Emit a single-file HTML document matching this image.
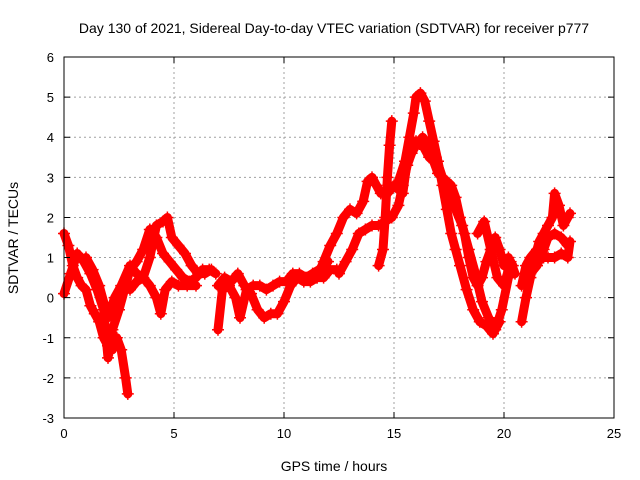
<!DOCTYPE html>
<html><head><meta charset="utf-8"><style>
body{margin:0;background:#fff}
svg{display:block;font-family:"Liberation Sans",sans-serif}
</style></head><body>
<svg id="chart" width="640" height="480">
<rect width="640" height="480" fill="#fff"/>
<text x="334" y="33" font-size="14" text-anchor="middle">Day 130 of 2021, Sidereal Day-to-day VTEC variation (SDTVAR) for receiver p777</text>
<text x="334" y="471" font-size="14" text-anchor="middle">GPS time / hours</text>
<text x="18" y="238" font-size="14" text-anchor="middle" transform="rotate(-90 18 238)">SDTVAR / TECUs</text>
<g id="grid"></g><g id="marks"></g><g id="axes"></g>
</svg>
<script>
const xTicks=[0,5,10,15,20,25];
const yTicks=[-3,-2,-1,0,1,2,3,4,5,6];
const track1=[[0,1.6],[0.2,1.3],[0.4,0.8],[0.6,0.5],[0.8,0.3],[1.0,0.2],[1.2,-0.2],[1.4,-0.4],[1.6,-0.6],[1.8,-1.0],[2.0,-1.2],[2.2,-1.3],[2.4,-1.0],[2.6,-1.3],[2.8,-2.0],[2.9,-2.4]];
const track2=[[0,0.1],[0.3,0.6],[0.6,1.1],[0.9,0.9],[1.2,0.6],[1.5,0.2],[1.8,-0.3],[2.0,-1.5],[2.2,-0.8],[2.5,-0.3],[2.8,0.3],[3.0,0.7],[3.3,0.9],[3.6,1.2],[3.9,1.7],[4.2,1.5],[4.5,1.1],[4.8,0.9],[5.1,0.7],[5.4,0.5],[5.7,0.4],[6.0,0.5],[6.3,0.7],[6.6,0.7],[6.9,0.6]];
const track3=[[1.0,1.0],[1.3,0.7],[1.6,0.3],[2.0,-0.5],[2.3,0.0],[2.6,0.3],[3.0,0.8],[3.3,0.6],[3.6,0.5],[3.9,1.0],[4.2,1.8],[4.5,1.9],[4.7,2.0],[4.9,1.5],[5.2,1.3],[5.5,1.1],[5.8,0.8],[6.1,0.6],[6.4,0.6],[6.7,0.7]];
const track4=[[3.0,0.2],[3.3,0.4],[3.6,0.5],[3.9,0.3],[4.2,0.0],[4.4,-0.4],[4.6,0.2],[4.9,0.4],[5.2,0.3],[5.6,0.3],[6.0,0.3]];
const track5=[[7.0,-0.8],[7.2,0.2],[7.5,0.3],[7.8,0.0],[8.0,-0.5],[8.3,0.2],[8.6,0.3],[8.9,0.3],[9.2,0.2],[9.5,0.3],[9.8,0.4],[10.1,0.4],[10.4,0.6],[10.7,0.6],[11.0,0.5],[11.3,0.6],[11.6,0.7],[12.0,0.9]];
const track6=[[7.0,0.3],[7.3,0.5],[7.6,0.4],[7.9,0.6],[8.2,0.3],[8.5,0.1],[8.8,-0.3],[9.1,-0.5],[9.4,-0.4],[9.7,-0.4],[10.0,-0.1],[10.3,0.3],[10.6,0.5],[10.9,0.4],[11.2,0.4],[11.5,0.5],[11.8,0.5],[12.1,0.7],[12.4,0.7]];
const track7=[[11.5,0.5],[11.8,0.9],[12.1,1.3],[12.4,1.6],[12.7,2.0],[13.0,2.2],[13.3,2.1],[13.6,2.4],[13.8,2.9],[14.0,3.0],[14.2,2.8],[14.4,2.6],[14.7,2.6],[15.0,2.8],[15.2,2.7],[15.4,2.6],[15.6,3.4],[15.8,3.8],[16.0,3.9],[16.2,3.9],[16.4,3.7],[16.6,3.5],[16.8,3.4],[17.0,3.1],[17.2,3.0],[17.4,2.9],[17.6,2.8],[17.8,2.5],[18.0,2.0],[18.2,1.6],[18.4,1.0],[18.6,0.5],[18.8,0.3],[19.0,0.5],[19.2,0.9],[19.4,1.2],[19.6,1.5],[19.8,1.2],[20.0,0.8],[20.2,1.0]];
const track8=[[12.5,0.6],[12.8,0.9],[13.1,1.2],[13.4,1.6],[13.7,1.7],[14.0,1.8],[14.3,1.8],[14.6,1.9],[14.9,2.0],[15.2,2.3],[15.4,2.8],[15.6,3.3],[15.8,3.6],[16.0,3.8],[16.3,4.0],[16.6,3.8],[16.9,3.5],[17.2,3.0],[17.5,2.5],[17.8,2.2],[18.1,1.8],[18.4,1.2],[18.7,0.6],[19.0,-0.1],[19.3,-0.5],[19.6,-0.8],[19.9,-0.3],[20.2,0.5],[20.4,0.8]];
const track9=[[15.2,2.9],[15.5,3.4],[15.7,4.0],[15.9,4.6],[16.0,5.0],[16.2,5.1],[16.4,4.9],[16.6,4.4],[16.8,3.9],[17.0,3.4],[17.2,2.8],[17.4,2.2],[17.6,1.6],[17.8,1.2],[18.0,0.8],[18.3,0.2],[18.6,-0.3],[18.9,-0.6],[19.2,-0.7],[19.5,-0.9],[19.8,-0.6]];
const track10=[[14.3,0.8],[14.5,1.2],[14.6,2.0],[14.7,3.0],[14.8,3.8],[14.9,4.4]];
const track11=[[20.8,-0.6],[21.0,0.0],[21.2,0.5],[21.4,1.0],[21.6,1.4],[21.8,1.6],[22.0,1.8],[22.2,2.0],[22.3,2.6],[22.5,2.3],[22.7,1.8],[22.9,2.0],[23.0,2.1]];
const track12=[[20.8,0.3],[21.0,0.8],[21.2,1.0],[21.5,1.2],[21.8,1.0],[22.0,1.0],[22.3,1.0],[22.6,1.1],[22.9,1.0],[23.0,1.4]];
const track13=[[21.2,0.6],[21.5,0.8],[21.8,1.2],[22.0,1.5],[22.3,1.6],[22.6,1.5],[22.9,1.3]];
const track14=[[18.8,1.6],[19.1,1.9],[19.4,1.2],[19.7,0.5],[20.0,0.3],[20.3,0.9],[20.5,0.6]];
const tracks=[track1,track2,track3,track4,track5,track6,track7,track8,track9,track10,track11,track12,track13,track14];

const L=64,R=614,T=57,B=418,xMin=0,xMax=25,yMin=-3,yMax=6;
const xs=v=>L+(v-xMin)/(xMax-xMin)*(R-L);
const ys=v=>B-(v-yMin)/(yMax-yMin)*(B-T);
const NS='http://www.w3.org/2000/svg';
function mk(tag,attrs,parent){const e=document.createElementNS(NS,tag);for(const k in attrs)e.setAttribute(k,attrs[k]);parent.appendChild(e);return e;}
const grid=document.getElementById('grid'),marks=document.getElementById('marks'),axes=document.getElementById('axes');
xTicks.forEach(t=>{
  const x=xs(t);
  if(t>xMin&&t<xMax){const g=mk('line',{x1:x,x2:x,y1:T,y2:B,stroke:'#a0a0a0','stroke-dasharray':'2,3'},grid);
  
  }
  const tk=mk('path',{d:`M${x},${B}v-6M${x},${T}v6`,stroke:'#000'},axes);
  
  
  const lb=mk('text',{x:x,y:B+20,'font-size':13,'text-anchor':'middle'},axes);lb.textContent=t;
  
  
});
yTicks.forEach(t=>{
  const y=ys(t);
  if(t>yMin&&t<yMax){const g=mk('line',{x1:L,x2:R,y1:y,y2:y,stroke:'#a0a0a0','stroke-dasharray':'2,3'},grid);
  
  }
  const tk=mk('path',{d:`M${L},${y}h6M${R},${y}h-6`,stroke:'#000'},axes);
  
  
  const lb=mk('text',{x:L-10,y:y+5,'font-size':13,'text-anchor':'end'},axes);lb.textContent=t;
  
  
});
const fr=mk('rect',{x:L,y:T,width:R-L,height:B-T,fill:'none',stroke:'#000'},axes);


tracks.forEach((tr,i)=>{
  const pl=mk('polyline',{points:tr.map(p=>xs(p[0])+','+ys(p[1])).join(' '),fill:'none',stroke:'#f00','stroke-width':9,'stroke-linejoin':'round','stroke-linecap':'round'},marks);
  
  
  tr.forEach(p=>{
    const x=xs(p[0]),y=ys(p[1]);
    const m=mk('path',{d:`M${x-6},${y}h12M${x},${y-6}v12`,stroke:'#f00','stroke-width':1.5},marks);
    
    
  });
});
</script>
</body></html>
